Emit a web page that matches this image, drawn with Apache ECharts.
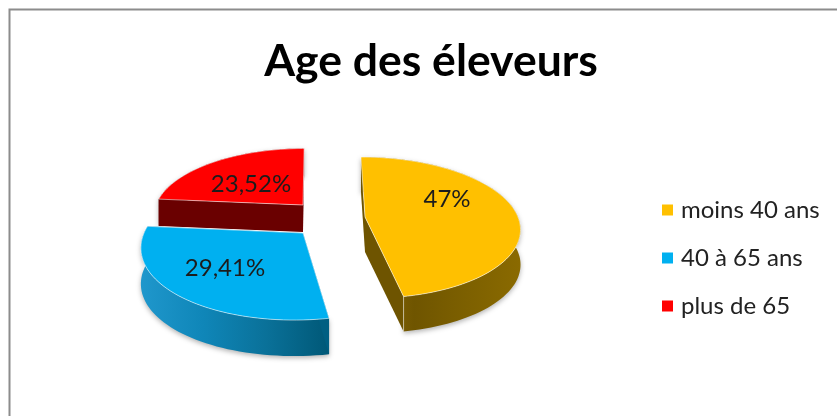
<!DOCTYPE html>
<html>
<head>
<meta charset="utf-8">
<style>html,body{margin:0;padding:0;background:#fff}#c{width:837px;height:416px}</style>
<script src="https://cdn.jsdelivr.net/npm/echarts@6/dist/echarts.min.js"></script>
</head>
<body>
<div id="c"></div>
<script>
const titleText = 'Age des éleveurs';
const categories = ['moins 40 ans', '40 à 65 ans', 'plus de 65'];
const values = [47, 29.41, 23.52];
const colors = ['#FFC000', '#00B0F0', '#FF0000'];

// Exploded 3D look: each slice has its own projected disc
const discs = [
  {cx: 365, cy: 217, r: 153, s: 69, k: 0.067, depth: 35, z: 3, lx: 447, ly: 199,
   cut: '#6e5400', wall: ['#8f6e08', '#6f5500', '#7d6000', '#8a6a00']},
  {cx: 303, cy: 233, r: 159, s: 74, k: -0.10, depth: 36, z: 3, lx: 225, ly: 268,
   cut: '#005f82', wall: ['#1f97cc', '#0f86b8', '#0a7199', '#005877']},
  {cx: 303, cy: 205, r: 147, s: 65, k: -0.02, depth: 27, z: 2, lx: 251, ly: 184,
   cut: '#6a0000', wall: ['#7a0000', '#640000', '#640000', '#5c0000']}
];
const persp = 0.15;
const total = values.reduce((a, b) => a + b, 0);

function project(d, deg) {
  const t = deg * Math.PI / 180, u = Math.sin(t), v = -Math.cos(t);
  const w = 1 - persp * v;
  const y = d.s * v / w;
  return [d.cx + d.r * u / w + d.k * y, d.cy + y];
}
function sliceRender(i) {
  return function () {
    const d = discs[i];
    const start = values.slice(0, i).reduce((a, b) => a + b, 0) / total * 360;
    const end = start + values[i] / total * 360;
    const rim = [];
    for (let a = start; a < end; a += 2) rim.push(project(d, a));
    rim.push(project(d, end));
    const low = p => [p[0], p[1] + d.depth];
    const apex = [d.cx, d.cy];
    const first = rim[0], last = rim[rim.length - 1];
    const wallGrad = new echarts.graphic.LinearGradient(0, 0, 1, 0, d.wall.map((c, n) => ({offset: n / (d.wall.length - 1), color: c})));
    const face = (pts, fill, extra) => ({type: 'polygon', shape: {points: pts}, style: Object.assign({fill: fill}, extra || {})});
    const edge = {stroke: 'rgba(255,255,255,0.55)', lineWidth: 1};
    return {
      type: 'group',
      children: [
        face(rim.concat(rim.slice().reverse().map(low)), wallGrad, {shadowBlur: 5, shadowColor: 'rgba(0,0,0,0.3)', shadowOffsetY: 2}),
        face([apex, first, low(first), low(apex)], d.cut),
        face([apex, last, low(last), low(apex)], d.cut),
        {type: 'polyline', shape: {points: [last, low(last)]}, style: {stroke: 'rgba(255,255,255,0.5)', lineWidth: 1, fill: null}},
        face([apex].concat(rim), colors[i], edge),
        {type: 'text', x: d.lx, y: d.ly, style: {
          text: String(values[i]).replace('.', ',') + '%',
          fill: '#1c1c1c', font: '24px Lato', align: 'center', verticalAlign: 'middle'}}
      ]
    };
  };
}

const chart = echarts.init(document.getElementById('c'), null, {renderer: 'canvas'});
chart.setOption({
  animation: false,
  backgroundColor: '#fff',
  title: {
    text: titleText, left: 426, top: 34, textAlign: 'center',
    textStyle: {fontFamily: 'Lato', fontWeight: 'bold', fontSize: 44.5, color: '#000'}
  },
  legend: {
    orient: 'vertical', left: 657, top: 193, itemWidth: 11, itemHeight: 11, itemGap: 24, icon: 'rect',
    selectedMode: false, data: categories,
    textStyle: {fontFamily: 'Lato', fontSize: 24, color: '#222', padding: [0, 0, 0, 3]}
  },
  graphic: [
    {type: 'polyline', shape: {points: [[9.5, 420], [9.5, 9.5], [840, 9.5]]}, silent: true,
     style: {stroke: '#8c8c8c', lineWidth: 2, fill: null}}
  ],
  series: categories.map((name, i) => ({
    type: 'custom', name: name, coordinateSystem: 'none', z: discs[i].z, silent: true,
    itemStyle: {color: colors[i]}, data: [values[i]], renderItem: sliceRender(i)
  }))
});
</script>
</body>
</html>
